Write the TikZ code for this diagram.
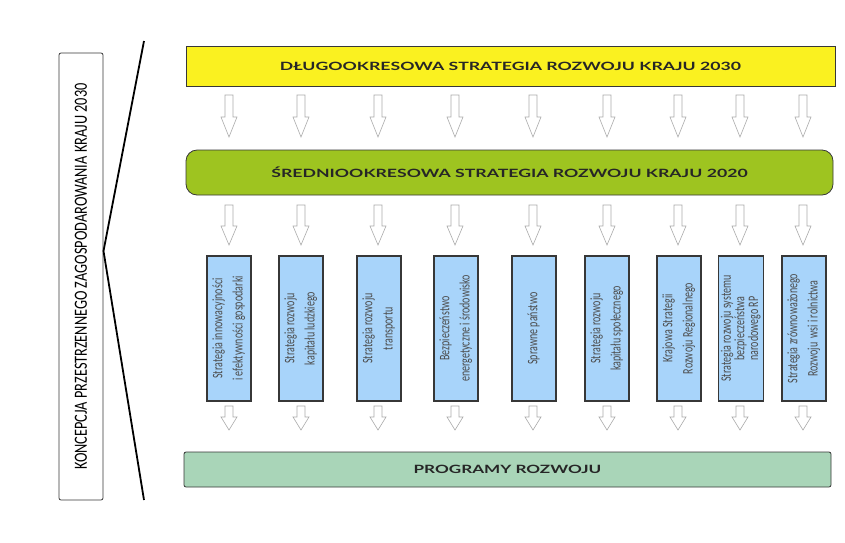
\documentclass[tikz,border=0pt]{standalone}
\usepackage{fontspec}
\usepackage{graphicx}
\setmainfont{Carlito}
\newfontfamily\headfont{Lato}
\usetikzlibrary{positioning}

\definecolor{longyellow}{RGB}{250,241,32}
\definecolor{midgreen}{RGB}{158,196,32}
\definecolor{stratblue}{RGB}{168,212,250}
\definecolor{proggreen}{RGB}{169,213,184}
\definecolor{boxline}{RGB}{55,55,55}
\definecolor{arrowline}{RGB}{170,170,170}

% hollow block arrow pointing down: x, top, bottom, head start
\newcommand\hollowdown[4]{%
  \draw[hollowarrow] (#1-4,#2) -- (#1+4,#2) -- (#1+4,#4) -- (#1+8,#4)
    -- (#1,#3) -- (#1-8,#4) -- (#1-4,#4) -- cycle;}
\newcommand\stratlines[1]{%
  \scalebox{1}[1.45]{\begin{tabular}{@{}c@{}}#1\end{tabular}}}

\tikzset{
  hollowarrow/.style={draw=arrowline, fill=white, line width=0.6pt, line join=miter},
  headbox/.style={draw=boxline, line width=0.8pt, inner sep=0pt,
    font=\headfont\bfseries\fontsize{11.4}{13}\selectfont, text=black!85},
  stratbox/.style={draw=boxline, fill=stratblue, line width=1.1pt, rotate=90,
    minimum width=145pt, minimum height=44pt, inner sep=0pt,
    font=\fontsize{10}{12}\selectfont, text=black!70},
}

\begin{document}
\begin{tikzpicture}[x=1pt, y=-1pt]
  \useasboundingbox (0,0) rectangle (845,542);

  % left frame and bracket
  \node[draw=boxline, line width=0.8pt, rounded corners=2pt,
    minimum width=44pt, minimum height=447pt, inner sep=0pt] (kpzk) at (81,276.5) {};
  \node[rotate=90, inner sep=0pt, font=\fontsize{14.3}{16}\selectfont] (kpzktext) at (kpzk.center)
    {\scalebox{1}[1.3]{KONCEPCJA PRZESTRZENNEGO ZAGOSPODAROWANIA KRAJU 2030}};
  \coordinate (brtop) at (144,41);
  \coordinate (brtip) at (103.5,251);
  \coordinate (brbot) at (144,500);
  \draw[line width=1.8pt] (brtop) -- (brtip) -- (brbot);

  % main levels
  \node[headbox, fill=longyellow, minimum width=649pt, minimum height=40pt] (dsrk) at (510.5,66.5)
    {\scalebox{1.55}[1]{DŁUGOOKRESOWA STRATEGIA ROZWOJU KRAJU 2030}};
  \node[headbox, fill=midgreen, rounded corners=11pt, minimum width=647pt, minimum height=45pt] (srk) at (509.5,172.5)
    {\scalebox{1.55}[1]{ŚREDNIOOKRESOWA STRATEGIA ROZWOJU KRAJU 2020}};
  \node[headbox, fill=proggreen, rounded corners=2pt, minimum width=647pt, minimum height=35pt] (prog) at (507.5,469.5)
    {\scalebox{1.5}[1]{PROGRAMY ROZWOJU}};

  % arrows between the levels
  \foreach \x in {229,301,378,455,533,607,678,740,803} {
    \hollowdown{\x}{95}{137}{117}
    \hollowdown{\x}{205}{245}{226}
    \hollowdown{\x}{406}{430}{417}
  }

  % strategies
  \foreach \i/\x/\t in {
      1/229/{Strategia innowacyjności\\[2pt]i efektywności gospodarki},
      2/301/{Strategia rozwoju\\[2pt]kapitału ludzkiego},
      3/379/{Strategia rozwoju\\[2pt]transportu},
      4/456/{Bezpieczeństwo\\[2pt]energetyczne i środowisko},
      5/534/{Sprawne państwo},
      6/607/{Strategia rozwoju\\[2pt]kapitału społecznego},
      7/679/{Krajowa Strategii\\[2pt]Rozwoju Regionalnego},
      8/741/{Strategia rozwoju systemu\\[-2.6pt]bezpieczeństwa\\[-2.6pt]narodowego RP},
      9/804/{Strategia zrównoważonego\\[2pt]Rozwoju\ \ wsi i rolnictwa}} {
    \node[stratbox] (s\i) at (\x,328.5) {\stratlines{\t}};
  }
\end{tikzpicture}
\end{document}
